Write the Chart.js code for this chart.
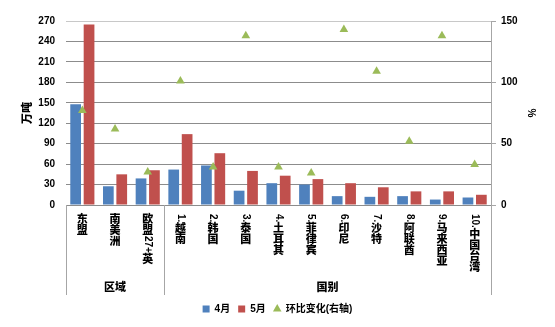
<!DOCTYPE html>
<html>
<head>
<meta charset="utf-8">
<script src="https://cdn.jsdelivr.net/npm/chart.js@4"></script>
<style>
  body { margin: 0; background: #fff; }
</style>
</head>
<body>
<canvas id="chart" width="555" height="327"></canvas>
<script>
const categories = ['东盟', '南美洲', '欧盟27+英', '1.越南', '2.韩国', '3.泰国', '4.土耳其',
    '5.菲律宾', '6.印尼', '7.沙特', '8.阿联酋', '9.马来西亚', '10.中国台湾'];
const groupNames = ['区域', '国别'];
const groupSizes = [3, 10];

const april = [148, 27.5, 39, 52, 58, 21, 32, 30, 13, 12, 13, 8, 11];
const may = [265, 45, 51, 104, 76, 50, 43, 38, 32, 26, 20, 20, 15];
const momChange = [77, 62, 27, 101, 31, 138, 31, 26, 143, 109, 52, 138, 33];

const FONT = '"Liberation Sans", "Noto Sans CJK SC", sans-serif';
const CJK_FONT = '"Noto Sans CJK SC", sans-serif';
const AXIS_GREY = '#a6a6a6';

// vertical stacked label: CJK upright, ascii runs turned clockwise
function drawVertical(ctx, text, x, y) {
    const parts = text.match(/[\x00-\x7f]+|[^\x00-\x7f]/g);
    parts.forEach(p => {
        if (/^[\x00-\x7f]+$/.test(p)) {
            ctx.font = 'bold 10px ' + FONT;
            const w = ctx.measureText(p).width;
            ctx.save();
            ctx.translate(x, y + w / 2);
            ctx.rotate(Math.PI / 2);
            ctx.textAlign = 'center';
            ctx.textBaseline = 'middle';
            ctx.fillText(p, 0, 0);
            ctx.restore();
            y += w + 1;
        } else {
            ctx.font = '900 11px ' + CJK_FONT;
            ctx.textAlign = 'center';
            ctx.textBaseline = 'top';
            ctx.fillText(p, x, y - 1);
            y += 11;
        }
    });
}

const categoryAxis = {
    id: 'categoryAxis',
    afterDraw(chart) {
        const ctx = chart.ctx;
        const x = chart.scales.x;
        const top = x.top;
        const bottom = top + 90;
        ctx.save();

        // group dividers
        ctx.strokeStyle = AXIS_GREY;
        ctx.lineWidth = 1;
        let start = 0;
        const edges = [0];
        groupSizes.forEach(n => { start += n; edges.push(start); });
        edges.forEach(i => {
            const px = Math.round(x.getPixelForValue(i - 0.5)) + 0.5;
            ctx.beginPath();
            ctx.moveTo(px, top);
            ctx.lineTo(px, bottom);
            ctx.stroke();
        });

        // category names
        ctx.fillStyle = '#000';
        categories.forEach((c, i) => {
            drawVertical(ctx, c, x.getPixelForValue(i), top + 9);
        });

        // group names
        ctx.font = '900 11px ' + CJK_FONT;
        ctx.textAlign = 'center';
        ctx.textBaseline = 'middle';
        groupNames.forEach((g, k) => {
            const a = x.getPixelForValue(edges[k] - 0.5);
            const b = x.getPixelForValue(edges[k + 1] - 0.5);
            ctx.fillText(g, (a + b) / 2, top + 82);
        });
        ctx.restore();
    }
};

new Chart(document.getElementById('chart'), {
    data: {
        labels: categories,
        datasets: [
            {
                type: 'bar',
                label: '4月',
                data: april,
                backgroundColor: '#4f81bd',
                pointStyle: 'rect',
                yAxisID: 'y',
                categoryPercentage: 0.82,
                barPercentage: 0.8
            },
            {
                type: 'bar',
                label: '5月',
                data: may,
                backgroundColor: '#c0504d',
                pointStyle: 'rect',
                yAxisID: 'y',
                categoryPercentage: 0.82,
                barPercentage: 0.8
            },
            {
                type: 'line',
                label: '环比变化(右轴)',
                data: momChange,
                yAxisID: 'y1',
                showLine: false,
                pointStyle: 'triangle',
                pointRadius: 5,
                pointBorderWidth: 0,
                backgroundColor: '#9bbb59',
                borderColor: '#9bbb59',
                order: -1
            }
        ]
    },
    options: {
        responsive: false,
        devicePixelRatio: 1,
        animation: false,
        layout: { padding: { top: 21, left: 0, right: 0, bottom: 3 } },
        scales: {
            x: {
                grid: { display: false },
                border: { display: false },
                ticks: { display: false },
                afterFit(scale) { scale.height = 91; }
            },
            y: {
                position: 'left',
                min: 0,
                max: 270,
                ticks: {
                    stepSize: 30,
                    padding: 11,
                    color: '#000',
                    font: { family: FONT, size: 10, weight: 'bold' }
                },
                grid: {
                    drawTicks: false,
                    color: ctx => ctx.index === 9 ? '#c8c8c8' : '#8c8c8c'
                },
                border: { display: false },
                title: {
                    display: true,
                    text: '万吨',
                    color: '#000',
                    padding: { top: 20 },
                    font: { family: CJK_FONT, size: 11, weight: '900' }
                },
                afterFit(scale) { scale.width = 66; }
            },
            y1: {
                position: 'right',
                min: 0,
                max: 150,
                ticks: {
                    stepSize: 50,
                    padding: 5,
                    color: '#000',
                    font: { family: FONT, size: 10, weight: 'bold' }
                },
                grid: {
                    drawOnChartArea: false,
                    drawTicks: true,
                    tickLength: 5,
                    color: AXIS_GREY
                },
                border: { display: true, color: AXIS_GREY },
                title: {
                    display: true,
                    text: '%',
                    color: '#000',
                    padding: { top: 18 },
                    font: { family: FONT, size: 10, weight: 'bold' }
                },
                afterFit(scale) { scale.width = 64; }
            }
        },
        plugins: {
            legend: {
                position: 'bottom',
                labels: {
                    usePointStyle: true,
                    boxWidth: 7,
                    boxHeight: 7,
                    padding: 8,
                    color: '#000',
                    font: { family: FONT, size: 10, weight: 'bold' },
                    sort: (a, b) => a.datasetIndex - b.datasetIndex
                }
            },
            tooltip: { enabled: false }
        }
    },
    plugins: [categoryAxis]
});
</script>
</body>
</html>
